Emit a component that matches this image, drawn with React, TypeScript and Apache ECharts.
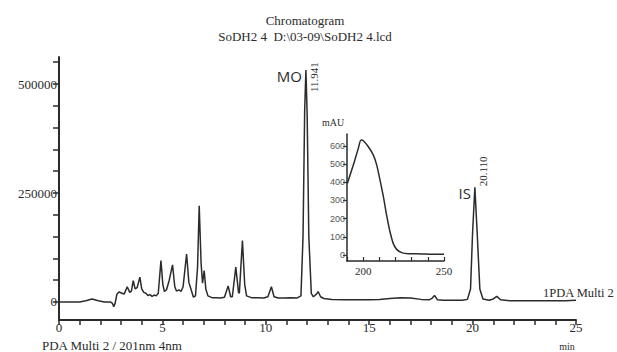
import { useEffect, useRef } from 'react';
import * as echarts from 'echarts';

// Chromatogram (retention time in min, detector signal)
const timeMin = [
  0, 0.5, 1.0, 1.3, 1.6, 1.9, 2.2, 2.5, 2.58, 2.65, 2.72, 2.8, 2.9, 3.05, 3.15, 3.3, 3.42, 3.5, 3.59, 3.68,
  3.78, 3.91, 4.0, 4.1, 4.2, 4.3, 4.4, 4.5, 4.6, 4.7, 4.8, 4.93, 5.02, 5.1, 5.2, 5.33, 5.49, 5.6, 5.68, 5.8,
  5.9, 6.0, 6.17, 6.28, 6.38, 6.5, 6.6, 6.7, 6.78, 6.87, 6.94, 7.02, 7.1, 7.2, 7.4, 7.6, 7.8, 8.0, 8.18, 8.3,
  8.38, 8.55, 8.68, 8.72, 8.87, 8.98, 9.07, 9.3, 9.6, 9.9, 10.1, 10.27, 10.4, 10.6, 10.9, 11.2, 11.5, 11.7, 11.8, 11.88,
  11.94, 12.0, 12.08, 12.2, 12.3, 12.45, 12.53, 12.65, 12.8, 13.2, 13.8, 14.5, 15.0, 15.5, 16.0, 16.5, 17.0, 17.5, 17.9, 18.05,
  18.16, 18.3, 18.6, 19.0, 19.5, 19.75, 19.9, 20.0, 20.11, 20.22, 20.35, 20.5, 20.8, 21.0, 21.17, 21.35, 21.8, 22.5, 23.5, 24.5,
  25,
];
const signal = [
  0, 0, 0, 3000, 7000, 3000, 0, 0, -3000, -11000, -2000, 18000, 23000, 20000, 18000, 35000, 22000, 25000, 49000, 30000,
  33000, 57000, 30000, 22000, 20000, 15000, 17000, 13000, 16000, 14000, 20000, 95000, 40000, 24000, 28000, 50000, 85000, 35000, 25000, 28000,
  24000, 35000, 110000, 45000, 30000, 11000, 14000, 80000, 221000, 90000, 43000, 72000, 30000, 14000, 10000, 10000, 9000, 11000, 37000, 12000,
  12000, 80000, 22000, 20000, 141000, 40000, 14000, 10000, 10000, 9000, 12000, 35000, 12000, 9000, 9000, 10000, 9000, 14000, 150000, 440000,
  532000, 430000, 150000, 20000, 12000, 18000, 24000, 12000, 8000, 6000, 5000, 5000, 5000, 6000, 8000, 10000, 9000, 6000, 5000, 9000,
  15000, 5000, 4000, 4000, 4000, 6000, 30000, 160000, 263000, 160000, 30000, 7000, 4000, 7000, 13000, 5000, 3000, 3000, 3000, 3000,
  4000,
];

// Inset UV spectrum (wavelength nm, mAU)
const waveNm = [190.2, 193.9, 197, 198.7, 200.1, 203.2, 206.3, 208.4, 210.4, 212.5, 214.5, 216.6, 218.6, 220.7, 223.8, 227.9, 236, 242.5, 250];
const absMAU = [394, 495, 587, 633, 629, 596, 550, 495, 413, 321, 220, 128, 64, 31, 13, 7, 6, 4, 4];

// Ticks and labels
const yTicks = [0, 50000, 100000, 150000, 200000, 250000, 300000, 350000, 400000, 450000, 500000, 550000];
const yTickLabels = [0, 250000, 500000];
const insetYTicks = [0, 100, 200, 300, 400, 500, 600];
const insetXTicks = [190, 200, 210, 220, 230, 240, 250];
const insetXLabels = [200, 250];

// Peak annotations
const peakNames = ['MO', 'IS'];
const peakTimes = [11.941, 20.11];
const peakHeights = [532000, 263000];

const INK = '#2b2b2b';
const SERIF = '"Liberation Serif", "Times New Roman", serif';
const SANS = '"Open Sans", "DejaVu Sans", sans-serif';

export default function App() {
  const ref = useRef<HTMLDivElement>(null);

  useEffect(() => {
    if (!ref.current) return;
    const chart = echarts.init(ref.current, undefined, { renderer: 'svg' });
    const main = timeMin.map((t, i) => [t, signal[i]]);
    const spec = waveNm.map((w, i) => [w, absMAU[i]]);

    chart.setOption({
      animation: false,
      backgroundColor: '#ffffff',
      grid: [
        { left: 59, right: 41, top: 57, bottom: 32 },
        { left: 347, top: 134, width: 97, height: 127 },
      ],
      xAxis: [
        {
          type: 'value', gridIndex: 0, min: 0, max: 25, interval: 5,
          axisLine: { show: true, onZero: false, lineStyle: { color: INK, width: 2 } },
          axisTick: { show: true, length: 5, lineStyle: { color: INK, width: 1.5 } },
          minorTick: { show: true, splitNumber: 5, length: 5, lineStyle: { color: INK, width: 1.5 } },
          axisLabel: { color: INK, fontFamily: SERIF, fontSize: 13, margin: 1, lineHeight: 13 },
          splitLine: { show: false },
        },
        {
          type: 'value', gridIndex: 1, min: 190, max: 250,
          axisLine: { show: true, onZero: false, lineStyle: { color: INK, width: 1.5 } },
          axisTick: { show: true, inside: true, length: 4, customValues: insetXTicks, lineStyle: { color: INK, width: 1.2 } },
          axisLabel: { color: INK, fontFamily: SERIF, fontSize: 11, margin: 4, customValues: insetXLabels },
          splitLine: { show: false },
        },
      ],
      yAxis: [
        {
          type: 'value', gridIndex: 0, min: -41300, max: 562000,
          axisLine: { show: true, onZero: false, lineStyle: { color: INK, width: 2 } },
          axisTick: { show: true, length: 6, customValues: yTicks, lineStyle: { color: INK, width: 1.5 } },
          axisLabel: {
            color: INK, fontFamily: SERIF, fontSize: 13, margin: 2, customValues: yTickLabels,
            formatter: (v: number) => String(v),
          },
          splitLine: { show: false },
        },
        {
          type: 'value', gridIndex: 1, min: -33, max: 666,
          axisLine: { show: true, onZero: false, lineStyle: { color: INK, width: 1.5 } },
          axisTick: { show: true, length: 4, customValues: insetYTicks, lineStyle: { color: INK, width: 1.2 } },
          axisLabel: { color: '#555', fontFamily: '"Liberation Sans", Arial, sans-serif', fontSize: 9, margin: 2, customValues: insetYTicks },
          splitLine: { show: false },
        },
      ],
      series: [
        {
          type: 'line', xAxisIndex: 0, yAxisIndex: 0, data: main, showSymbol: false, silent: true,
          lineStyle: { color: INK, width: 1.5 },
        },
        {
          type: 'line', xAxisIndex: 1, yAxisIndex: 1, data: spec, showSymbol: false, silent: true, smooth: 0.3,
          lineStyle: { color: INK, width: 1.5 },
        },
      ],
    });

    const graphics: any[] = [
      { type: 'text', x: 305, y: 20, style: { text: 'Chromatogram', fill: INK, font: `13px ${SERIF}`, textAlign: 'center', textVerticalAlign: 'middle' } },
      { type: 'text', x: 305, y: 36, style: { text: 'SoDH2 4  D:\\03-09\\SoDH2 4.lcd', fill: INK, font: `13px ${SERIF}`, textAlign: 'center', textVerticalAlign: 'middle' } },
      { type: 'text', x: 543, y: 293, style: { text: '1PDA Multi 2', fill: INK, font: `12.5px ${SERIF}`, textAlign: 'left', textVerticalAlign: 'middle' } },
      { type: 'text', x: 42, y: 345, style: { text: 'PDA Multi 2 / 201nm 4nm', fill: INK, font: `13px ${SERIF}`, textAlign: 'left', textVerticalAlign: 'middle' } },
      { type: 'text', x: 567, y: 346, style: { text: 'min', fill: INK, font: `10px ${SERIF}`, textAlign: 'center', textVerticalAlign: 'middle' } },
      { type: 'text', x: 333, y: 122, style: { text: 'mAU', fill: INK, font: `10px ${SERIF}`, textAlign: 'center', textVerticalAlign: 'middle' } },
    ];
    peakNames.forEach((name, i) => {
      const p = chart.convertToPixel({ gridIndex: 0 }, [peakTimes[i], peakHeights[i]]) as number[];
      graphics.push({
        type: 'text', x: p[0] - 4, y: p[1] + 6,
        style: { text: name, fill: INK, font: `15px ${SANS}`, textAlign: 'right', textVerticalAlign: 'middle' },
      });
      graphics.push({
        type: 'text', x: p[0] + 8, y: i === 0 ? p[1] + 22 : p[1] - 1, rotation: Math.PI / 2,
        style: { text: peakTimes[i].toFixed(3), fill: INK, font: `11px ${SERIF}`, textAlign: 'left', textVerticalAlign: 'middle' },
      });
    });
    chart.setOption({ graphic: graphics });

    return () => chart.dispose();
  }, []);

  return <div ref={ref} style={{ position: 'absolute', left: 0, top: 0, width: 617, height: 352 }} />;
}
